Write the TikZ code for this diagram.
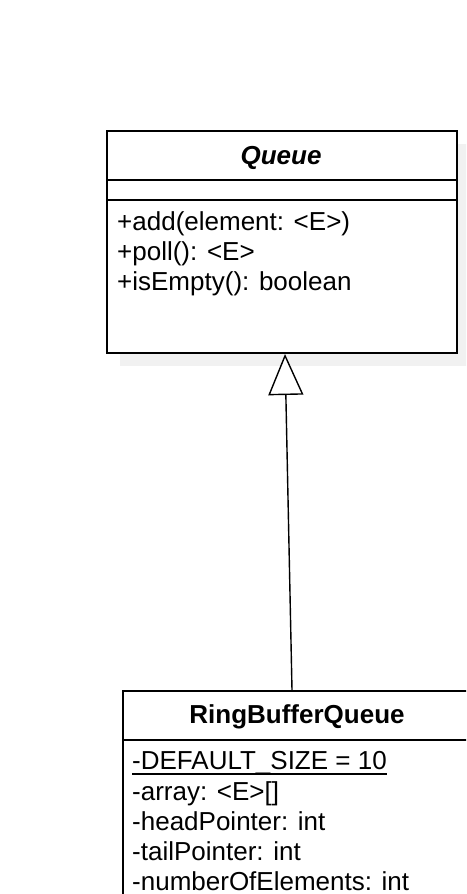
\documentclass[tikz,border=0pt]{standalone}
\usepackage{fontspec}
\setmainfont{Liberation Sans}
\usetikzlibrary{arrows.meta,calc}
\definecolor{shadowgray}{HTML}{F1F1F1}
\tikzset{
  classbox/.style={draw=black, line width=2pt, fill=white, inner sep=0pt, anchor=north west, rectangle},
  divider/.style={draw=black, line width=2pt},
  umltext/.style={inner sep=0pt, anchor=base west, font=\fontsize{26pt}{30pt}\selectfont},
  umltitle/.style={inner sep=0pt, anchor=base, font=\fontsize{26pt}{30pt}\selectfont\bfseries},
  inh/.style={draw=black, line width=1.4pt, -{Triangle[open, width=35pt, length=41pt, fill=white]}},
}
\begin{document}
\begin{tikzpicture}[x=1pt,y=-1pt]
\clip (0,0) rectangle (466,894);
\fill[white] (0,0) rectangle (466,894);
% shadow of Queue
\fill[shadowgray] (120,144) rectangle (470,366);
% Queue class
\node[classbox, minimum width=350pt, minimum height=222pt] (queue) at (106,130) {};
\draw[divider] (106,180) -- (456,180);
\draw[divider] (106,200) -- (456,200);
\node[umltitle, font=\fontsize{26pt}{30pt}\selectfont\bfseries\itshape] (qtitle) at (281,164) {Queue};
\node[umltext] (m1) at (117,230) {+add(element: <E>)};
\node[umltext] (m2) at (117,260) {+poll(): <E>};
\node[umltext] (m3) at (117,290) {+isEmpty(): boolean};
% RingBufferQueue class
\node[classbox, minimum width=350pt, minimum height=260pt] (rbq) at (122,690) {};
\draw[divider] (122,740) -- (472,740);
\node[umltitle] (rtitle) at (297,723) {RingBufferQueue};
\node[umltext] (a1) at (132,769) {-DEFAULT\_SIZE = 10};
\draw[line width=2.2pt] ($(a1.base west)+(0,4.8)$) -- ($(a1.base east)+(0,4.8)$);
\node[umltext] (a2) at (132,800) {-array: <E>[]};
\node[umltext] (a3) at (132,830) {-headPointer: int};
\node[umltext] (a4) at (132,860) {-tailPointer: int};
\node[umltext] (a5) at (132,890) {-numberOfElements: int};
% generalization
\draw[inh] ([xshift=170pt]rbq.north west) -- ([xshift=179pt]queue.south west);
\end{tikzpicture}
\end{document}
